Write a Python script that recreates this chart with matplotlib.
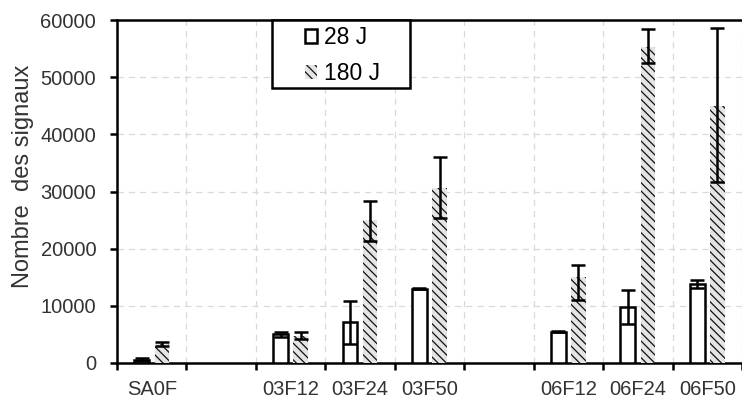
import numpy as np
import matplotlib
matplotlib.use("Agg")
import matplotlib.pyplot as plt
from matplotlib.patches import Rectangle, Patch

plt.rcParams['font.family'] = ['Liberation Sans', 'DejaVu Sans']
plt.rcParams['hatch.linewidth'] = 0.9

categories = ["SA0F", "", "03F12", "03F24", "03F50", "", "06F12", "06F24", "06F50"]
series_names = ["28 J", "180 J"]

vals_28 = [600, np.nan, 5000, 7200, 13000, np.nan, 5500, 9850, 13800]
err_28_low = [250, 0, 450, 3900, 100, 0, 100, 3000, 700]
err_28_high = [250, 0, 450, 3650, 100, 0, 100, 2900, 700]

vals_180 = [3300, np.nan, 4800, 25000, 30600, np.nan, 15100, 55200, 44900]
err_180_low = [400, 0, 650, 3650, 5200, 0, 4000, 2800, 13200]
err_180_high = [400, 0, 650, 3350, 5400, 0, 2000, 3200, 13700]

y_ticks = [0, 10000, 20000, 30000, 40000, 50000, 60000]

W, H = 742, 399
fig = plt.figure(figsize=(W / 100, H / 100), dpi=100)
ax_left, ax_right, ax_top, ax_bot = 117, 742, 20, 363
ax = fig.add_axes([ax_left / W, (H - ax_bot) / H, (ax_right - ax_left) / W, (ax_bot - ax_top) / H])

slot_px = 70.2
x = np.arange(len(categories))
bw = 0.21
off = 0.145

ax.bar(x - off, vals_28, width=bw, facecolor='white', edgecolor='black', linewidth=1.8, zorder=3)
ax.bar(x + off, vals_180, width=bw, facecolor='#e4e4e4', edgecolor='#111111', linewidth=0,
       hatch='\\\\\\\\', zorder=3)

ekw = dict(fmt='none', ecolor='black', elinewidth=1.8, capsize=5, capthick=1.8, zorder=4)
m28 = ~np.isnan(vals_28)
m180 = ~np.isnan(vals_180)
ax.errorbar((x - off)[m28], np.array(vals_28)[m28],
            yerr=[np.array(err_28_low)[m28], np.array(err_28_high)[m28]], **ekw)
ax.errorbar((x + off)[m180], np.array(vals_180)[m180],
            yerr=[np.array(err_180_low)[m180], np.array(err_180_high)[m180]], **ekw)

ax.set_ylim(0, 60000)
ax.set_xlim(-0.5, -0.5 + (ax_right - ax_left) / slot_px)
ax.set_yticks(y_ticks)
ax.set_yticklabels([str(v) for v in y_ticks], fontsize=14.5, color='#333333')
ax.set_xticks(x)
ax.set_xticklabels(categories, fontsize=14.5, color='#333333')
ax.tick_params(axis='x', which='major', length=0, pad=12)
ax.set_xticks(np.arange(len(categories) + 1) - 0.5, minor=True)
ax.tick_params(axis='x', which='minor', length=5, width=1.8, direction='out', color='black')
ax.tick_params(axis='y', which='major', length=5, width=1.8, direction='out', pad=10)

ax.grid(True, axis='y', which='major', linestyle=(0, (5, 4)), color='#d9d9d9', linewidth=0.9, zorder=0)
ax.grid(True, axis='x', which='minor', linestyle=(0, (5, 4)), color='#d9d9d9', linewidth=0.9, zorder=0)
ax.set_axisbelow(True)

for s in ['left', 'bottom', 'top']:
    ax.spines[s].set_linewidth(1.8)
    ax.spines[s].set_color('black')
ax.spines['right'].set_visible(False)

ax.set_ylabel("Nombre  des signaux", fontsize=17, color='#333333')
ax.yaxis.set_label_coords(-(117 - 34) / (ax_right - ax_left), (ax_bot - 176) / (ax_bot - ax_top))

# legend box
lx0 = (272 - ax_left) / (ax_right - ax_left)
lx1 = (410 - ax_left) / (ax_right - ax_left)
ly0 = (ax_bot - 88) / (ax_bot - ax_top)
ax.add_patch(Rectangle((lx0, ly0), lx1 - lx0, 1 - ly0, transform=ax.transAxes,
                       facecolor='white', edgecolor='black', linewidth=1.8, zorder=6, clip_on=False))
handles = [Patch(facecolor='white', edgecolor='black', linewidth=1.8),
           Patch(facecolor='#e4e4e4', edgecolor='#111111', linewidth=0, hatch='\\\\\\\\')]
leg = ax.legend(handles, series_names, loc='center', bbox_to_anchor=((lx0 + lx1) / 2 + 0.002, (ly0 + 1) / 2 - 0.005),
                frameon=False, fontsize=16.5, handlelength=0.55, handleheight=0.55,
                handletextpad=0.3, labelspacing=0.55, borderpad=0)
leg.set_zorder(7)

fig.savefig("out.png", dpi=100)
